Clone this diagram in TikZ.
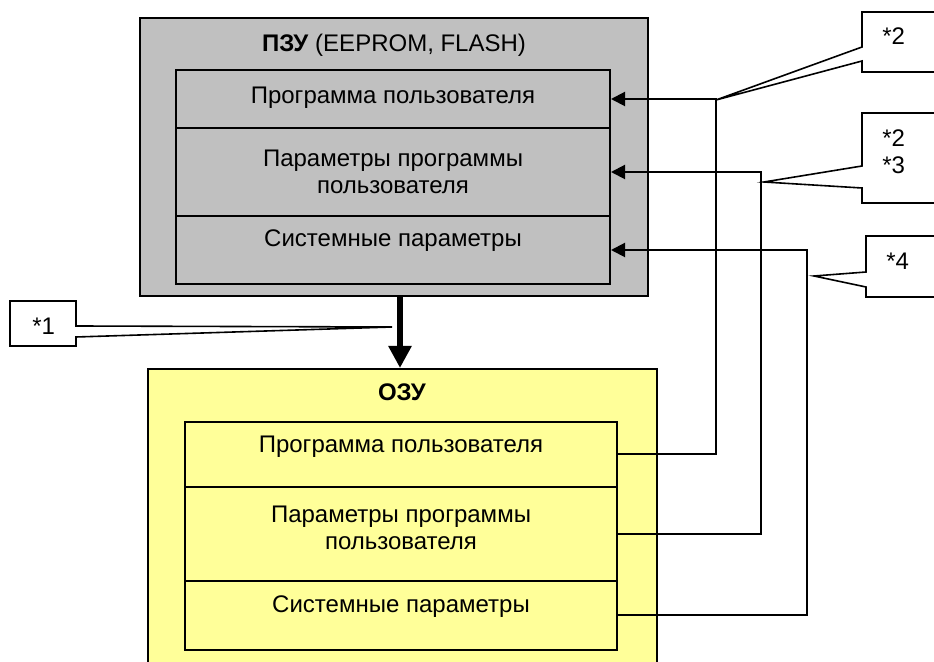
\documentclass[tikz,border=0pt]{standalone}
\usepackage{fontspec}
\setmainfont{Liberation Sans}
\usetikzlibrary{arrows.meta}
\definecolor{romgray}{RGB}{192,192,192}
\definecolor{ramyellow}{RGB}{255,255,153}
\tikzset{
 mem/.style={draw,line width=1pt,inner sep=0pt},
 cell/.style={draw,line width=1pt,inner sep=0pt,minimum width=217pt},
 txt/.style={font=\fontsize{12}{13.5}\selectfont,align=center,inner sep=0pt},
 link/.style={line width=1pt,-{Triangle[length=7pt,width=7pt]}},
 bigarrow/.style={line width=3.2pt,-{Triangle[length=11pt,width=11pt]}},
 note/.style={draw,fill=white,line width=.8pt,line join=miter}
}
\begin{document}
\begin{tikzpicture}[x=.5pt,y=-.5pt]
 \useasboundingbox (0,0) rectangle (934,662);
 \clip (0,0) rectangle (934,662);
 \node[mem,fill=romgray,minimum width=254pt,minimum height=139pt] (rom) at (394,157) {};
 \node[txt] (romtitle) at (394,45) {\textbf{ПЗУ} (EEPROM, FLASH)};
 \node[cell,fill=romgray,minimum height=29pt] (romA) at (393,99) {};
 \node[cell,fill=romgray,minimum height=44pt] (romB) at (393,172) {};
 \node[cell,fill=romgray,minimum height=34pt] (romC) at (393,250) {};
 \node[txt] (romtextA) at (393,98) {Программа пользователя};
 \node[txt] (romtextB) at (393,172) {Параметры программы\\пользователя};
 \node[txt] (romtextC) at (393,241) {Системные параметры};

 \node[mem,fill=ramyellow,minimum width=254.5pt,minimum height=165.5pt] (ram) at (402.5,534.5) {};
 \node[txt] (ramtitle) at (402,392) {\textbf{ОЗУ}};
 \node[cell,fill=ramyellow,minimum width=216pt,minimum height=32.5pt] (ramA) at (401,454.5) {};
 \node[cell,fill=ramyellow,minimum width=216pt,minimum height=47pt] (ramB) at (401,534) {};
 \node[cell,fill=ramyellow,minimum width=216pt,minimum height=34.5pt] (ramC) at (401,615.5) {};
 \node[txt] (ramtextA) at (401,447) {Программа пользователя};
 \node[txt] (ramtextB) at (401,527.5) {Параметры программы\\пользователя};
 \node[txt] (ramtextC) at (401,607) {Системные параметры};

 \coordinate (drop) at (400,0);
 \draw[bigarrow] (rom.south -| drop) -- (ram.north -| drop);

 \foreach \r/\x in {A/716,B/761,C/807}{
   \coordinate (bus\r) at (\x,0);
   \draw[link] (ram\r.east) -| (bus\r |- rom\r.east) -- (rom\r.east);}

 \draw[note] (862,12) -- (940,12) -- (940,72) -- (862,72) -- (862,61) -- (716,100) -- (862,47) -- cycle;
 \node[txt,anchor=west] (noteA) at (882,36) {*2};
 \draw[note] (862,113) -- (940,113) -- (940,203) -- (862,203) -- (862,188) -- (764,182) -- (862,166) -- cycle;
 \node[txt,anchor=west,align=left] (noteB) at (882,152) {*2\\*3};
 \draw[note] (866,236) -- (940,236) -- (940,297) -- (866,297) -- (866,287) -- (814,276) -- (866,272) -- cycle;
 \node[txt,anchor=west] (noteC) at (886,261) {*4};
 \draw[note] (10,301) -- (76,301) -- (76,326) -- (392,327) -- (76,337) -- (76,346) -- (10,346) -- cycle;
 \node[txt,anchor=west] (noteD) at (32,326) {*1};
\end{tikzpicture}
\end{document}
